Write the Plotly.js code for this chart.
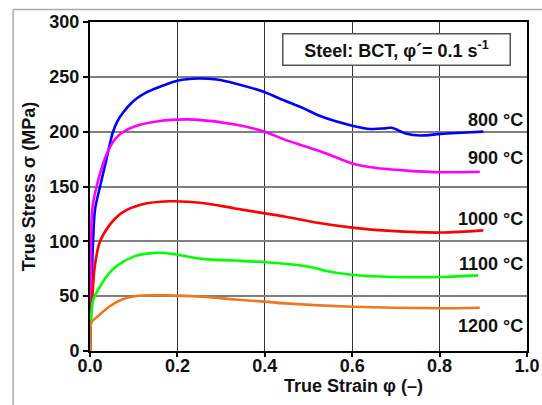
<!DOCTYPE html>
<html>
<head>
<meta charset="utf-8">
<script src="https://cdn.plot.ly/plotly-3.0.1.min.js"></script>
<style>html,body{margin:0;padding:0;background:#fff;}#chart{width:542px;height:405px;}</style>
</head>
<body>
<div id="chart"></div>
<script>
// Series: true strain (-) vs true stress (MPa)
const strain800 = [0, 0.003, 0.007, 0.0115, 0.023, 0.036, 0.045, 0.052, 0.062, 0.075, 0.103, 0.13, 0.16, 0.2, 0.248, 0.29, 0.332, 0.4, 0.435, 0.49, 0.528, 0.6, 0.642, 0.675, 0.69, 0.725, 0.755, 0.803, 0.85, 0.9];
const stress800 = [0, 50, 100, 129, 150, 172, 188, 199, 209, 217, 229, 236, 241, 246.5, 248.5, 247.5, 244, 236, 230, 221, 214, 205.5, 202.5, 203, 203.5, 198, 196.5, 198, 199, 200];

const strain900 = [0, 0.002, 0.005, 0.015, 0.03, 0.042, 0.055, 0.073, 0.103, 0.164, 0.2, 0.24, 0.332, 0.4, 0.447, 0.528, 0.6, 0.642, 0.725, 0.803, 0.892];
const stress900 = [0, 70, 129, 150, 171, 183, 192, 199, 205, 210, 211, 211, 206.5, 200, 192.5, 182, 171, 167.5, 164.5, 163, 163.5];

const strain1000 = [0, 0.001, 0.005, 0.011, 0.023, 0.046, 0.073, 0.118, 0.18, 0.256, 0.332, 0.4, 0.447, 0.528, 0.6, 0.688, 0.803, 0.9];
const stress1000 = [0, 25, 47, 77.5, 100, 115.5, 126, 133.5, 136.5, 135, 130, 125.5, 122.5, 116.5, 112.5, 109.5, 108, 110];

const strain1100 = [0, 0.001, 0.0076, 0.019, 0.038, 0.061, 0.103, 0.149, 0.19, 0.256, 0.332, 0.4, 0.447, 0.512, 0.535, 0.6, 0.688, 0.803, 0.888];
const stress1100 = [0, 22.5, 47, 56, 68, 77.5, 86.5, 89.5, 88.5, 84, 82.5, 81, 79.5, 76, 73.5, 69.5, 67.5, 67.5, 69];

const strain1200 = [0, 0.001, 0.005, 0.019, 0.046, 0.073, 0.103, 0.149, 0.2, 0.256, 0.332, 0.4, 0.447, 0.6, 0.803, 0.892];
const stress1200 = [0, 22.5, 27, 32, 41, 47, 50, 51, 50.5, 49.5, 47, 45, 43.4, 40.3, 39, 39.5];

const curveLabels = ['800 °C', '900 °C', '1000 °C', '1100 °C', '1200 °C'];
const labelY = [211, 176, 120, 79, 23];
const colors = ['#0000ff', '#ff00ff', '#ff0000', '#00ff00', '#ee7722'];

const xs = [strain800, strain900, strain1000, strain1100, strain1200];
const ys = [stress800, stress900, stress1000, stress1100, stress1200];

const FONT = 'Liberation Sans, Arial, sans-serif';
const TXT = {family: FONT, size: 18, weight: 'bold', color: '#111'};

const traces = xs.map((x, i) => ({
  x: x, y: ys[i], type: 'scatter', mode: 'lines', name: curveLabels[i],
  line: {color: colors[i], width: 2.6, shape: 'spline', smoothing: 0.9},
  showlegend: false, hoverinfo: 'skip'
}));

const annotations = curveLabels.map((t, i) => ({
  x: 0.995, y: labelY[i], xref: 'x', yref: 'y', text: t,
  xanchor: 'right', yanchor: 'middle', showarrow: false, font: TXT
}));

annotations.push({
  x: 0.702, y: 0.916, xref: 'paper', yref: 'paper',
  text: 'Steel: BCT, φ´= 0.1 s<sup>-1</sup>',
  showarrow: false, xanchor: 'center', yanchor: 'middle',
  width: 222, height: 26, borderpad: 2,
  bgcolor: '#ffffff', bordercolor: '#555555', borderwidth: 1.5,
  font: TXT
});

annotations.push({
  x: 0.602, y: -0.107, xref: 'paper', yref: 'paper',
  text: 'True Strain φ (–)', showarrow: false,
  xanchor: 'center', yanchor: 'middle', font: TXT
});

const layout = {
  width: 542, height: 405,
  margin: {l: 90, r: 15, t: 22, b: 54, pad: 0},
  paper_bgcolor: '#ffffff', plot_bgcolor: '#ffffff',
  font: TXT,
  xaxis: {
    range: [0, 1.0], tickvals: [0, 0.2, 0.4, 0.6, 0.8, 1.0],
    ticktext: ['0.0', '0.2', '0.4', '0.6', '0.8', '1.0'],
    showgrid: true, gridcolor: '#333333', gridwidth: 1.2,
    showline: true, linecolor: '#000', linewidth: 2, mirror: true,
    ticks: 'outside', ticklen: 4, tickwidth: 2, tickcolor: '#000',
    ticklabelstandoff: -7,
    tickfont: TXT, zeroline: false, fixedrange: true
  },
  yaxis: {
    range: [0, 300], tickvals: [0, 50, 100, 150, 200, 250, 300],
    showgrid: true, gridcolor: '#808080', gridwidth: 2,
    showline: true, linecolor: '#000', linewidth: 2, mirror: true,
    ticks: 'outside', ticklen: 5, tickwidth: 2, tickcolor: '#000',
    tickfont: TXT,
    title: {text: 'True Stress σ (MPa)', standoff: 9, font: TXT},
    zeroline: false, fixedrange: true
  },
  annotations: annotations,
  shapes: [
    {type: 'line', xref: 'paper', yref: 'paper', x0: -0.176, x1: 1.1, y0: 1.038, y1: 1.038,
     line: {color: '#aaaaaa', width: 1.5}},
    {type: 'line', xref: 'paper', yref: 'paper', x0: -0.176, x1: -0.176, y0: 1.038, y1: -0.3,
     line: {color: '#aaaaaa', width: 1.5}}
  ]
};

Plotly.newPlot('chart', traces, layout, {staticPlot: true, displayModeBar: false});
</script>
</body>
</html>
